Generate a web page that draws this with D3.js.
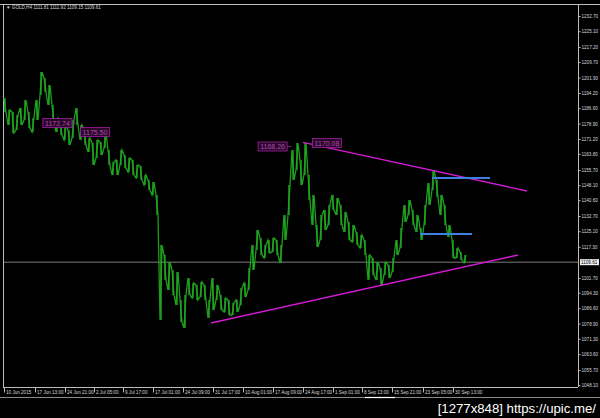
<!DOCTYPE html>
<html><head><meta charset="utf-8">
<script src="https://cdn.jsdelivr.net/npm/d3@7"></script>
<style>html,body{margin:0;padding:0;background:#000;}svg{display:block;}</style>
</head><body>
<svg id="chart" width="600" height="418"></svg>
<script>
// ---- data ----
const symbolTitle = "GOLD,H4  1111.81 1111.92 1109.15 1109.61";
const barHighs = [1191.7,1185.7,1184.7,1183.2,1186.7,1190.7,1184.7,1181.7,1190.7,1204.7,
1201.7,1198.2,1188.2,1181.7,1180.7,1178.2,1175.7,1180.7,1186.7,1178.2,
1175.7,1171.7,1169.2,1170.7,1169.7,1174.2,1165.7,1159.7,1160.7,1165.7,
1163.2,1161.7,1160.7,1158.2,1157.7,1153.2,1150.7,1149.7,1143.2,1118.2,
1113.2,1109.7,1105.7,1104.7,1090.7,1093.2,1101.7,1099.2,1098.2,1099.7,
1098.2,1090.7,1101.7,1098.2,1093.2,1091.7,1090.7,1089.2,1090.7,1096.7,
1099.2,1106.7,1118.2,1125.7,1121.7,1118.2,1120.7,1121.7,1120.7,1118.2,
1133.2,1148.2,1165.7,1169.2,1160.7,1169.2,1153.2,1143.2,1128.2,1133.2,
1135.7,1138.2,1143.2,1141.7,1138.2,1134.7,1129.7,1128.2,1124.7,1123.2,
1120.7,1113.2,1111.7,1109.7,1106.7,1109.7,1108.2,1111.7,1120.7,1126.7,
1138.2,1140.7,1135.7,1133.2,1126.7,1138.2,1149.2,1155.7,1150.7,1143.2,
1138.2,1128.2,1120.7,1116.7,1114.7,1113.2];
const barLows = [1184.7,1178.2,1174.2,1175.7,1178.2,1180.7,1176.7,1174.7,1180.7,1193.2,
1194.7,1188.2,1179.7,1174.7,1173.2,1170.7,1168.2,1171.7,1178.2,1170.7,
1168.2,1164.7,1158.2,1161.7,1163.2,1166.7,1158.2,1153.2,1153.2,1158.2,
1156.7,1154.7,1153.2,1151.7,1150.7,1148.2,1145.7,1143.2,1133.2,1080.7,
1100.7,1095.7,1093.2,1088.2,1079.7,1076.7,1093.2,1091.7,1090.7,1092.2,
1090.7,1081.7,1085.7,1090.7,1085.7,1084.7,1083.2,1083.2,1084.7,1088.2,
1092.2,1095.7,1105.7,1115.7,1113.2,1111.7,1114.2,1114.7,1113.2,1109.2,
1120.7,1133.2,1150.7,1155.7,1148.2,1153.2,1140.7,1128.2,1117.2,1120.7,
1125.7,1128.2,1135.7,1133.2,1128.2,1124.7,1120.7,1119.7,1118.2,1116.7,
1113.2,1100.7,1103.2,1100.7,1098.2,1103.2,1101.7,1104.7,1113.2,1116.7,
1129.7,1133.2,1128.2,1124.7,1120.7,1128.2,1138.2,1145.7,1142.2,1133.2,
1128.2,1122.2,1111.7,1111.7,1110.7,1109.2];
const lastPrice = 1109.61;
const priceTicks = [1232.70,1225.10,1217.20,1209.70,1201.90,1194.20,1186.60,1178.90,1171.20,1163.80,1155.70,1148.10,1140.60,1132.70,1125.10,1117.30,1101.70,1094.30,1086.60,1078.90,1071.30,1063.60,1055.70,1048.10];
const timeLabels = ["10 Jun 2015","17 Jun 13:00","24 Jun 21:00","2 Jul 05:00","9 Jul 17:00","17 Jul 01:00","24 Jul 09:00","31 Jul 17:00","10 Aug 01:00","17 Aug 09:00","24 Aug 17:00","1 Sep 01:00","8 Sep 13:00","15 Sep 21:00","23 Sep 05:00","30 Sep 13:00"];
const timeLabelBars = [-0.25,7.5,15,22.25,29.5,37,44.5,52,59.5,67,74.5,82,89.25,96.75,104.5,112];
const trendUpper = [{bar:74.5, price:1169.5},{bar:130.5, price:1145.2}];
const trendLower = [{bar:51.5, price:1079.2},{bar:128.25, price:1113.2}];
const blueLevels = [{from:106.75, to:121.25, price:1151.7},{from:103.75, to:116.75, price:1123.7}];
const priceNotes = [
  {text:"1172.74", bar:13.1, price:1179.2, dash:true},
  {text:"1175.50", bar:22.5, price:1174.7, dash:false},
  {text:"1168.26", bar:66.9, price:1167.45, dash:true},
  {text:"1170.08", bar:80.5, price:1169.2, dash:false}
];
const watermark = "[1277x848] https://upic.me/";

// ---- layout ----
const svg = d3.select("#chart");
const L = 3, R = 578, T = 5, B = 387;
const x = d3.scaleLinear().domain([0, 143.25]).range([5, R]);
const y = d3.scaleLinear().domain([1047.2, 1238.2]).range([B, T]);
const font = "'Liberation Sans', Arial, sans-serif";

svg.append("rect").attr("width",600).attr("height",418).attr("fill","#000");

// frame
svg.append("line").attr("x1",0).attr("x2",600).attr("y1",T-0.5).attr("y2",T-0.5).attr("stroke","#bdbdbd").attr("stroke-width",1);
svg.append("line").attr("x1",L+0.5).attr("x2",L+0.5).attr("y1",T).attr("y2",B).attr("stroke","#bdbdbd").attr("stroke-width",1);

// current price line
svg.append("line").attr("x1",L).attr("x2",R).attr("y1",y(lastPrice)).attr("y2",y(lastPrice))
  .attr("stroke","#9a9a9a").attr("stroke-width",0.8);

// price bars: high-low sticks joined by a thin zigzag path
const bars = barHighs.map((h,i)=>({i, h, l: barLows[i]}));
const zig = [];
bars.forEach((d,k)=>{ zig.push([x(d.i)-1, y(k%2 ? d.l : d.h)]); zig.push([x(d.i)+1, y(k%2 ? d.h : d.l)]); });
svg.append("path").attr("d", d3.line()(zig)).attr("fill","none").attr("stroke","#1d9d1d").attr("stroke-width",1.3);
svg.append("g").selectAll("line").data(bars).join("line")
  .attr("x1",d=>x(d.i)).attr("x2",d=>x(d.i))
  .attr("y1",d=>y(d.h)).attr("y2",d=>y(d.l))
  .attr("stroke","#22a822").attr("stroke-width",1.4);

// trendlines
const tl = d3.line().x(d=>x(d.bar)).y(d=>y(d.price));
[trendUpper, trendLower].forEach(t=>{
  svg.append("path").datum(t).attr("d",tl).attr("fill","none").attr("stroke","#d21ad2").attr("stroke-width",1.4);
});
svg.append("g").selectAll("line").data(blueLevels).join("line")
  .attr("x1",d=>x(d.from)).attr("x2",d=>x(d.to))
  .attr("y1",d=>y(d.price)).attr("y2",d=>y(d.price))
  .attr("stroke","#3f7fe0").attr("stroke-width",2.2);

// price notes
const notes = svg.append("g").selectAll("g").data(priceNotes).join("g")
  .attr("transform",d=>`translate(${x(d.bar)},${y(d.price)})`);
notes.append("rect").attr("x",-14.5).attr("y",-4.5).attr("width",29).attr("height",9)
  .attr("fill","#2a082a").attr("stroke","#a21ea2").attr("stroke-width",0.8);
notes.append("text").attr("text-anchor","middle").attr("y",2.6)
  .attr("font-family",font).attr("font-size",7).attr("fill","#b248b2").text(d=>d.text);
notes.filter(d=>d.dash).append("line").attr("x1",14.5).attr("x2",19).attr("y1",0).attr("y2",0)
  .attr("stroke","#a21ea2").attr("stroke-width",0.8);

// axes
const yAxis = svg.append("g").attr("transform",`translate(${R+0.5},0)`)
  .call(d3.axisRight(y).tickValues(priceTicks).tickSize(2).tickPadding(1).tickFormat(d=>d.toFixed(2)));
yAxis.select(".domain").attr("stroke","#bdbdbd").attr("d",`M0,${T}V${B}`);
yAxis.selectAll(".tick line").attr("stroke","#bdbdbd");
yAxis.selectAll("text").attr("fill","#d8d8d8").attr("font-family",font).attr("font-size",4.6);

const xAxis = svg.append("g").attr("transform",`translate(0,${B+0.5})`)
  .call(d3.axisBottom(x).tickValues(timeLabelBars).tickSize(5).tickFormat((d,i)=>timeLabels[i]));
xAxis.select(".domain").attr("stroke","#bdbdbd").attr("d",`M${L},0H${R}`);
xAxis.selectAll(".tick line").attr("stroke","#bdbdbd");
xAxis.selectAll("text").attr("fill","#d8d8d8").attr("font-family",font).attr("font-size",4.6)
  .attr("text-anchor","start").attr("x",1.5).attr("y",3.2).attr("dy","0.71em");

// current price tag
const tagY = y(lastPrice);
svg.append("rect").attr("x",R+2).attr("y",tagY-3).attr("width",19).attr("height",6).attr("fill","#f2f2f2");
svg.append("text").attr("x",R+3).attr("y",tagY+1.7).attr("font-family",font).attr("font-size",4.6)
  .attr("fill","#000").text(lastPrice.toFixed(2));

// title
svg.append("text").attr("x",6).attr("y",9.2).attr("font-family",font).attr("font-size",4.6)
  .attr("fill","#d8d8d8").text("\u25BC " + symbolTitle);

// bottom separator & scroll marker
svg.append("line").attr("x1",0).attr("x2",600).attr("y1",397.5).attr("y2",397.5).attr("stroke","#8a8a8a").attr("stroke-width",1);
svg.append("line").attr("x1",365).attr("x2",395).attr("y1",397.5).attr("y2",397.5).attr("stroke","#ffffff").attr("stroke-width",1.2);

// watermark
svg.append("text").attr("x",596).attr("y",413).attr("text-anchor","end").attr("font-family",font).attr("font-size",13.2)
  .attr("fill","#ffffff").text(watermark);
</script>
</body></html>
